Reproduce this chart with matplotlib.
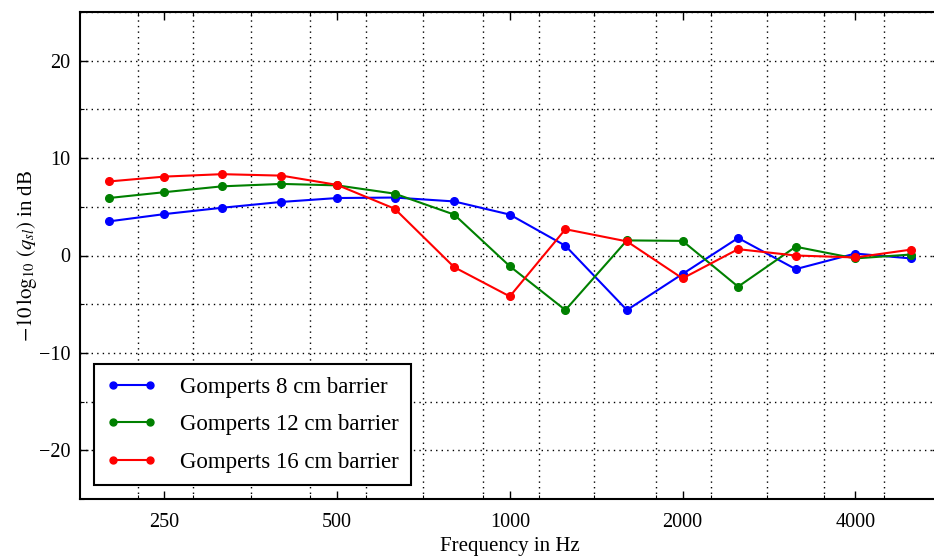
import numpy as np
import matplotlib
matplotlib.use("Agg")
import matplotlib.pyplot as plt
from matplotlib.ticker import FixedLocator, NullFormatter, MultipleLocator

plt.rcParams['font.family'] = ['Liberation Serif', 'DejaVu Serif']
plt.rcParams['mathtext.fontset'] = 'stix'

freqs = [200, 250, 315, 400, 500, 630, 800, 1000, 1250, 1600, 2000, 2500, 3150, 4000, 5000]
gomperts_8 = [3.5, 4.25, 4.9, 5.5, 5.9, 5.95, 5.55, 4.2, 1.0, -5.6, -1.9, 1.8, -1.4, 0.2, -0.3]
gomperts_12 = [5.9, 6.5, 7.1, 7.35, 7.2, 6.35, 4.2, -1.1, -5.6, 1.55, 1.5, -3.2, 0.9, -0.3, 0.1]
gomperts_16 = [7.6, 8.1, 8.35, 8.2, 7.25, 4.8, -1.2, -4.2, 2.7, 1.45, -2.35, 0.65, 0.0, -0.2, 0.6]
labels = ['Gomperts 8 cm barrier', 'Gomperts 12 cm barrier', 'Gomperts 16 cm barrier']
xticks = [250, 500, 1000, 2000, 4000]
xticklabels = ['250', '500', '1000', '2000', '4000']

fig = plt.figure(figsize=(9.34, 5.59), dpi=100)
ax = fig.add_axes([80/934, 60/559, 859.6/934, 487/559])

for y, c, lab in zip([gomperts_8, gomperts_12, gomperts_16], ['#0000ff', '#008000', '#ff0000'], labels):
    ax.plot(freqs, y, '-o', color=c, lw=1.5, ms=5.5, label=lab)

ax.set_xscale('log')
edge = 2 ** (1 / 6)
ax.set_xlim(freqs[0] / edge, freqs[-1] * edge)
ax.set_ylim(-25, 25)
ax.xaxis.set_major_locator(FixedLocator(xticks))
ax.set_xticklabels(xticklabels)
edges = [f * edge for f in freqs[:-1]]
ax.xaxis.set_minor_locator(FixedLocator(edges))
ax.xaxis.set_minor_formatter(NullFormatter())
ax.yaxis.set_major_locator(MultipleLocator(10))
ax.yaxis.set_minor_locator(MultipleLocator(5))

ax.tick_params(which='both', direction='in', top=True, right=True, labelsize=14.5, colors='black')
ax.tick_params(which='major', length=6, width=1)
ax.tick_params(which='minor', length=3, width=0.8)
ax.tick_params(axis='x', pad=10)
ax.tick_params(axis='y', pad=7)

ax.grid(True, which='minor', axis='x', linestyle=(0, (1, 3)), color='black', lw=1)
ax.grid(True, which='both', axis='y', linestyle=(0, (1, 3)), color='black', lw=1)

for s in ax.spines.values():
    s.set_linewidth(1.5)

ax.set_xlabel('Frequency in Hz', fontsize=15, labelpad=4)
ax.set_ylabel(r'$-10\,\log_{10}\,(q_{sl})$ in dB', fontsize=15, labelpad=0)

leg = ax.legend(loc='lower left', numpoints=2, fontsize=16.5, fancybox=False,
                framealpha=1, edgecolor='black', borderpad=0.55, labelspacing=0.72,
                handlelength=2.2, handletextpad=1.0, borderaxespad=0.6)
leg.get_frame().set_linewidth(1.5)
for line in leg.get_lines():
    line.set_markersize(5)

fig.savefig('out.png', dpi=100)
